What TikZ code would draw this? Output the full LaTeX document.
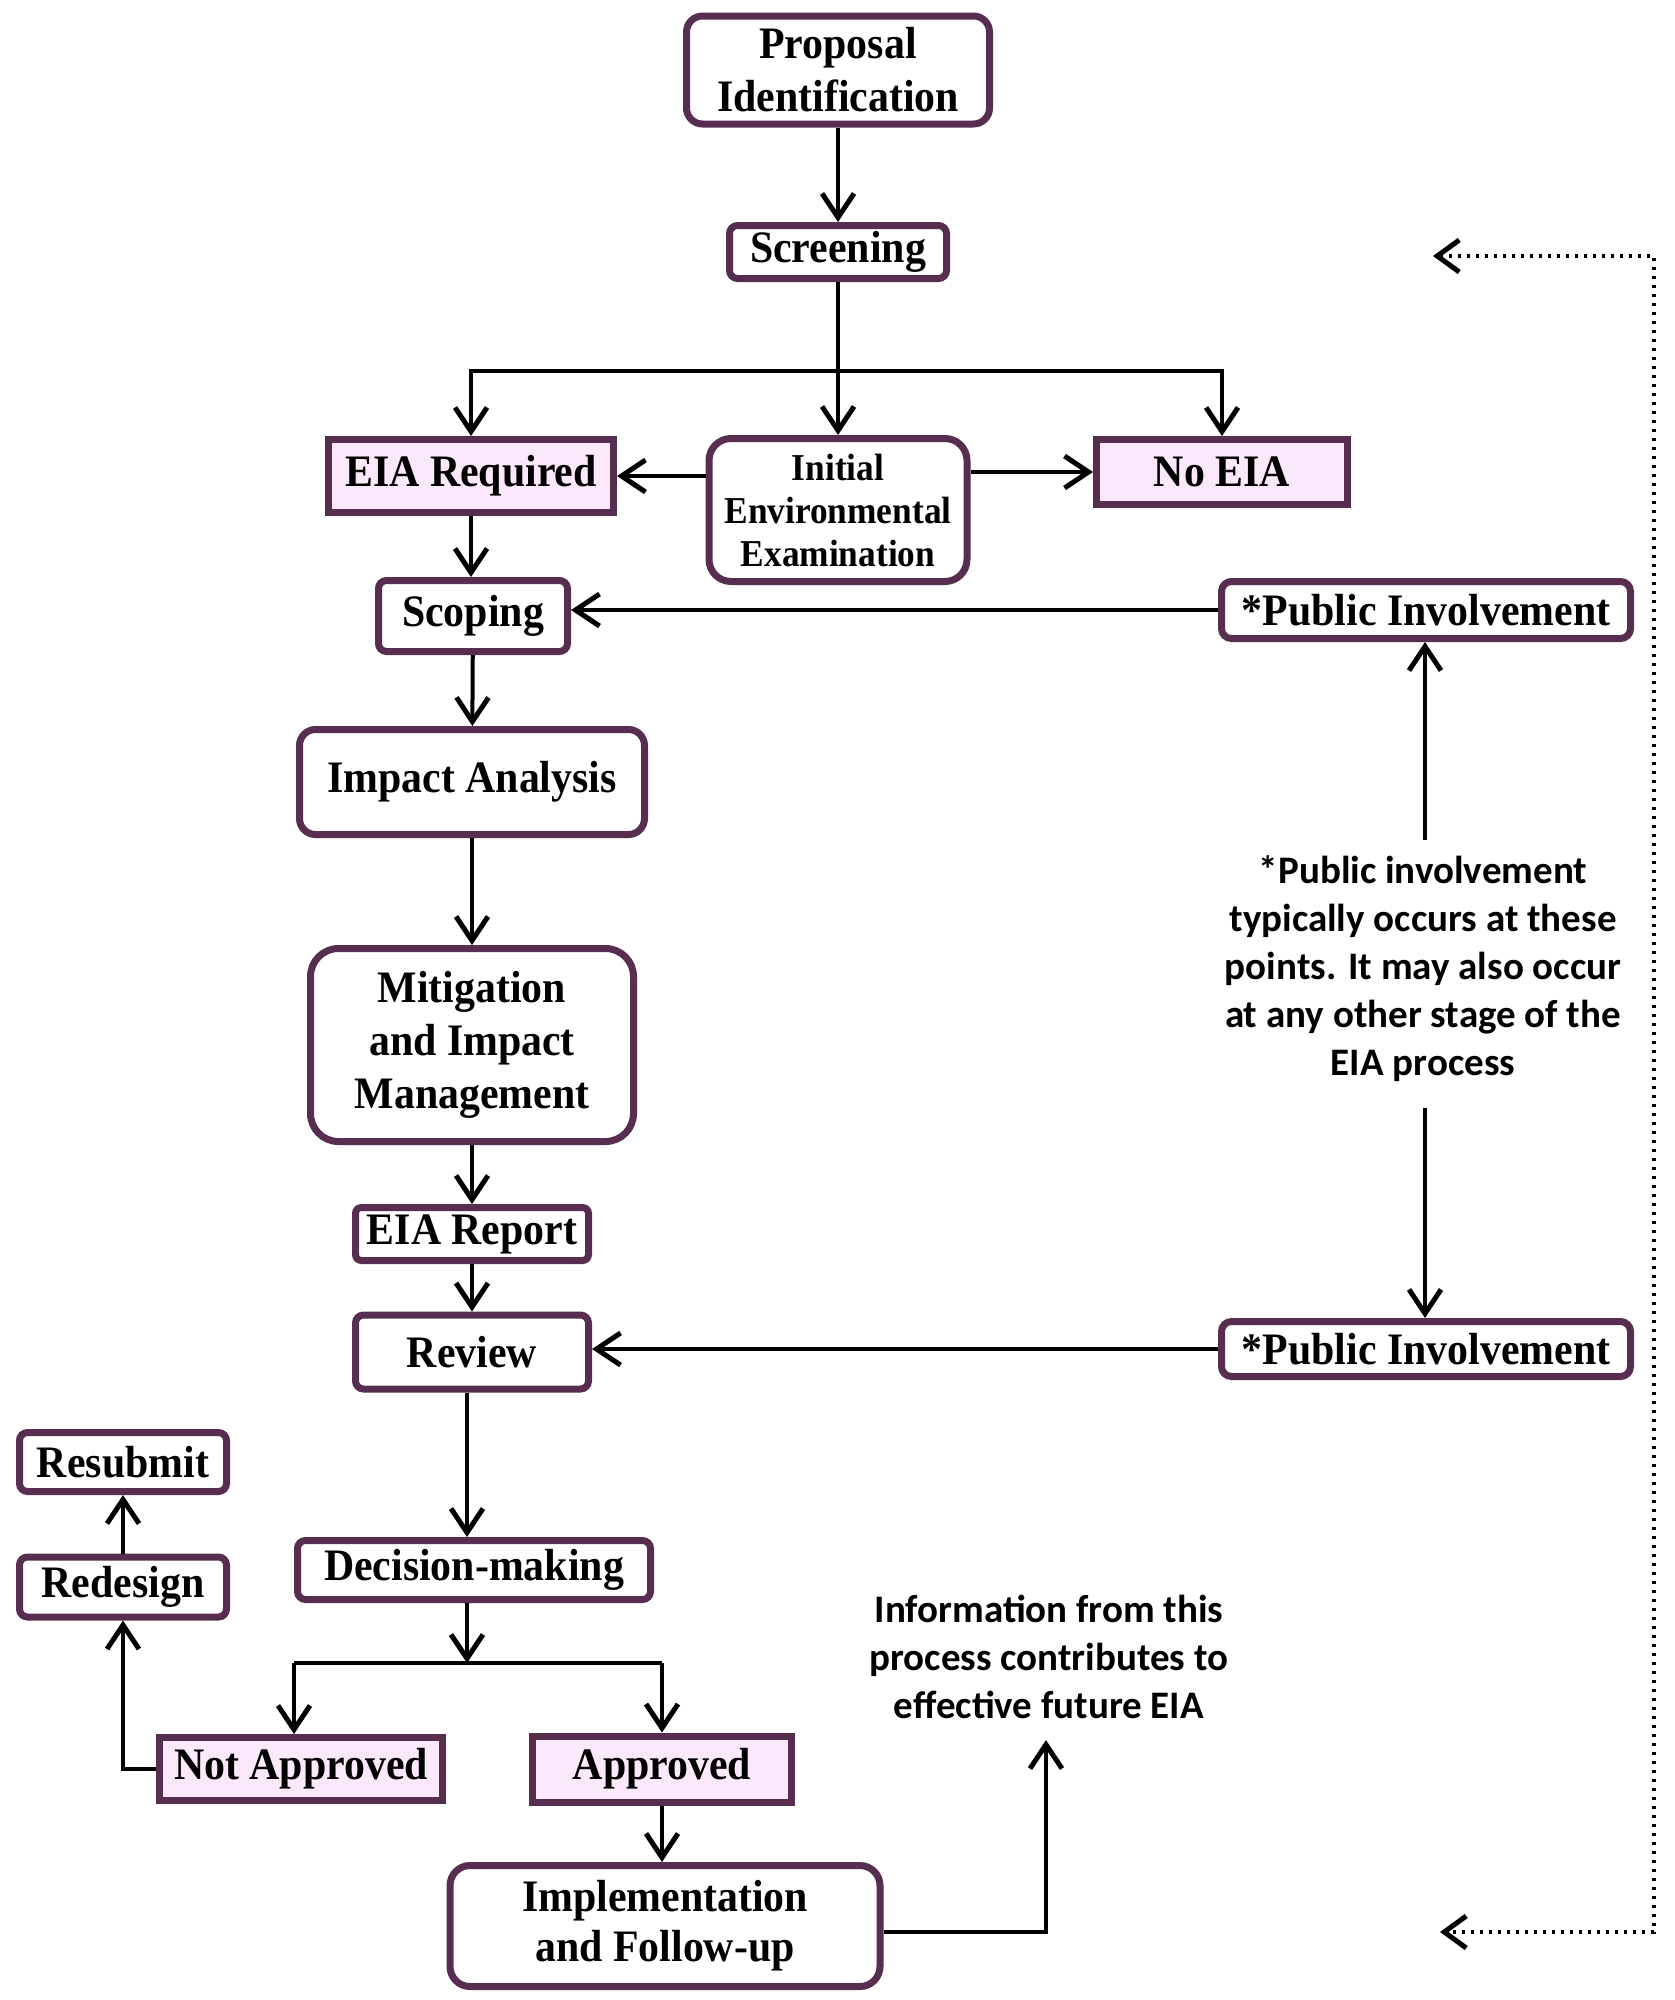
\documentclass[tikz,border=0pt]{standalone}
\usepackage{fontspec}
\setmainfont{Liberation Serif}[FakeStretch=0.93]
\newfontfamily\notefont{Carlito}
\usetikzlibrary{arrows.meta}
\definecolor{bord}{RGB}{88,46,80}
\definecolor{pinkf}{RGB}{251,232,250}
\tikzset{
  box/.style={draw=bord, line width=7pt, fill=white, inner sep=0pt, align=center,
    font=\fontsize{45}{53}\selectfont\bfseries, text=black},
  pinkbox/.style={box, fill=pinkf},
  arr/.style={line width=4pt, -{Straight Barb[length=24pt,width=32pt,line width=5pt]}},
  plain/.style={line width=4pt},
  dotarr/.style={line width=3.5pt, dash pattern=on 3pt off 6pt,
    {Straight Barb[length=22pt,width=32pt,line width=5pt]}-{Straight Barb[length=22pt,width=32pt,line width=5pt]}},
  notetext/.style={align=center, inner sep=0pt, font=\notefont\bfseries\fontsize{39}{48}\selectfont}
}
\begin{document}
\begin{tikzpicture}[x=1pt,y=-1pt]
\fill[white] (0,0) rectangle (1674,2000);
\useasboundingbox (0,0) rectangle (1674,2000);

% nodes
\node[box, rounded corners=16pt, minimum width=303pt, minimum height=108pt] (prop) at (838,70) {Proposal\\Identification};
\node[box, rounded corners=8pt, minimum width=217pt, minimum height=53pt] (screen) at (838,252) {Screening};
\node[pinkbox, minimum width=285pt, minimum height=73pt] (eiareq) at (471,476) {EIA Required};
\node[box, rounded corners=22pt, minimum width=258pt, minimum height=143pt,
      font=\fontsize{38}{43}\selectfont\bfseries] (iee) at (838,510) {Initial\\Environmental\\Examination};
\node[pinkbox, minimum width=251pt, minimum height=65pt] (noeia) at (1222,472) {No EIA};
\node[box, rounded corners=8pt, minimum width=189pt, minimum height=71pt] (scoping) at (473,616) {Scoping};
\node[box, rounded corners=10pt, minimum width=409pt, minimum height=57pt] (pitop) at (1426,610) {*Public Involvement};
\node[box, rounded corners=16pt, minimum width=345pt, minimum height=105pt] (impact) at (472,782) {Impact Analysis};
\node[box, rounded corners=28pt, minimum width=323pt, minimum height=193pt] (mitig) at (472,1045) {Mitigation\\and Impact\\Management};
\node[box, rounded corners=6pt, minimum width=233pt, minimum height=53pt] (eiarep) at (472,1234) {EIA Report};
\node[box, rounded corners=8pt, minimum width=233pt, minimum height=74pt] (review) at (472,1352) {Review};
\node[box, rounded corners=10pt, minimum width=409pt, minimum height=55pt] (pibot) at (1426,1349) {*Public Involvement};
\node[box, rounded corners=8pt, minimum width=207pt, minimum height=59pt] (resub) at (123,1462) {Resubmit};
\node[box, rounded corners=8pt, minimum width=207pt, minimum height=60pt] (redes) at (123,1587) {Redesign};
\node[box, rounded corners=8pt, minimum width=353pt, minimum height=59pt] (decis) at (474,1570) {Decision-making};
\node[pinkbox, minimum width=283pt, minimum height=63pt] (notapp) at (301,1769) {Not Approved};
\node[pinkbox, minimum width=259pt, minimum height=66pt] (appr) at (662,1769) {Approved};
\node[box, rounded corners=20pt, minimum width=430pt, minimum height=121pt,
      font=\fontsize{45}{50}\selectfont\bfseries] (impl) at (665,1926) {Implementation\\and Follow-up};

\node[notetext] (note) at (1423,969) {*Public involvement\\typically occurs at these\\points. It may also occur\\at any other stage of the\\EIA process};
\node[notetext] (info) at (1049,1657) {Information from this\\process contributes to\\effective future EIA};

% helper coordinates
\coordinate (j1) at (838,371);
\coordinate (na) at (1425,840);
\coordinate (nb) at (1425,1108);
\coordinate (j2) at (467,1663);
\coordinate (jL) at (294,1663);
\coordinate (jR) at (662,1663);
\coordinate (ia) at (1046,1740);
\coordinate (dt) at (1433,256);
\coordinate (c1) at (1654,256);
\coordinate (c2) at (1654,1932);
\coordinate (db) at (1440,1932);

% connectors
\draw[arr] (prop) -- (screen);
\draw[arr] (screen.south) -- (iee.north);
\draw[arr] (j1) -| (eiareq.north);
\draw[arr] (j1) -| (noeia.north);
\draw[arr] (iee.west |- eiareq.east) -- (eiareq.east);
\draw[arr] (iee.east |- noeia.west) -- (noeia.west);
\draw[arr] (eiareq.south) -- (eiareq.south |- scoping.north);
\draw[arr] (pitop.west) -- (scoping.east |- pitop.west);
\draw[arr] (scoping) -- (impact);
\draw[arr] (impact) -- (mitig);
\draw[arr] (mitig) -- (eiarep);
\draw[arr] (eiarep) -- (review);
\draw[arr] (na) -- (pitop.south -| na);
\draw[arr] (nb) -- (pibot.north -| nb);
\draw[arr] (pibot.west) -- (review.east |- pibot.west);
\draw[arr] (review.south -| j2) -- (decis.north -| j2);
\draw[arr] (decis.south -| j2) -- (j2);
\draw[plain] (jL) -- (jR);
\draw[arr] (jL) -- (jL |- notapp.north);
\draw[arr] (jR) -- (jR |- appr.north);
\draw[arr] (notapp.west) -| (redes.south);
\draw[arr] (redes) -- (resub);
\draw[arr] (appr.south) -- (appr.south |- impl.north);
\draw[arr] (impl.east |- c2) -| (ia);
\draw[dotarr] (dt) -- (c1) -- (c2) -- (db);
\end{tikzpicture}
\end{document}
